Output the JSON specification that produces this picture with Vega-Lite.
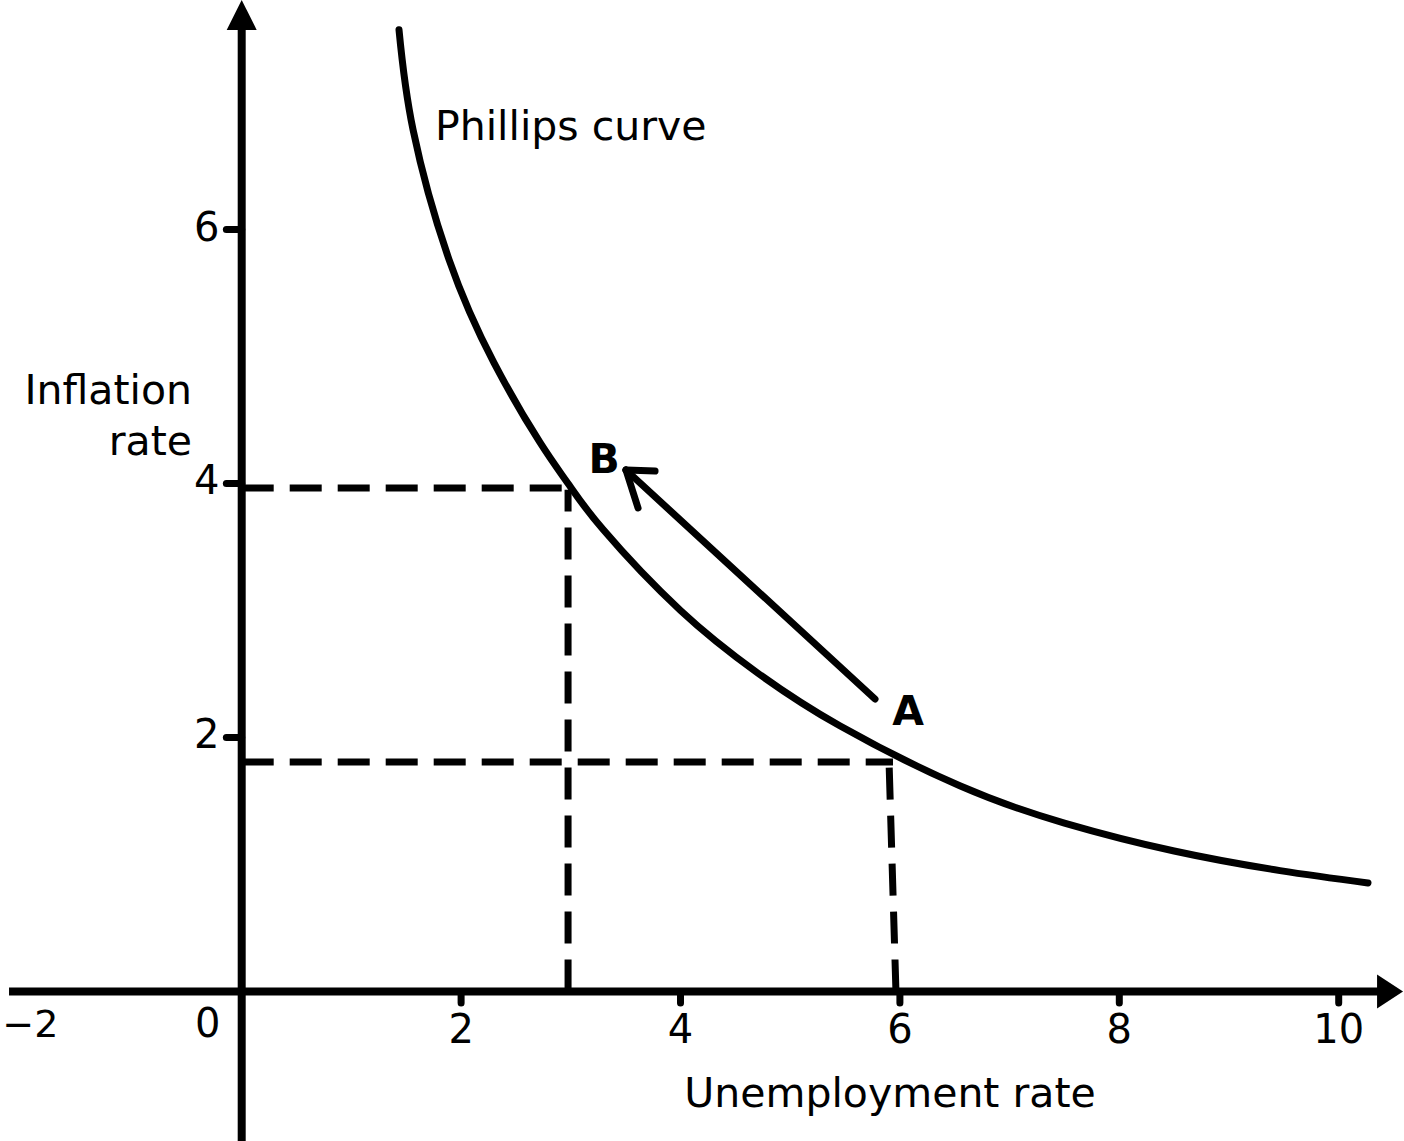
{
  "$schema": "https://vega.github.io/schema/vega-lite/v6.json",
  "width": 1404,
  "height": 1141,
  "autosize": "none",
  "padding": 0,
  "background": "white",
  "config": {"view": {"stroke": null}, "font": "DejaVu Sans"},
  "datasets": {
    "curve": [
      {"x": 1.434, "y": 7.572}, {"x": 1.562, "y": 6.785}, {"x": 1.89, "y": 5.763},
      {"x": 2.3, "y": 4.95}, {"x": 2.719, "y": 4.323}, {"x": 2.975, "y": 4.0},
      {"x": 3.293, "y": 3.639}, {"x": 4.0, "y": 3.0}, {"x": 4.7, "y": 2.51},
      {"x": 5.452, "y": 2.092}, {"x": 6.546, "y": 1.62}, {"x": 7.5, "y": 1.326},
      {"x": 8.5, "y": 1.106}, {"x": 9.465, "y": 0.952}, {"x": 10.267, "y": 0.855}
    ],
    "dashes": [
      {"x": 0, "y": 3.965, "x2": 2.92, "y2": 3.965},
      {"x": 2.975, "y": 0, "x2": 2.975, "y2": 3.95},
      {"x": 0, "y": 1.807, "x2": 5.937, "y2": 1.807},
      {"x": 5.964, "y": 0, "x2": 5.901, "y2": 1.807}
    ],
    "arrow": [
      {"x": 5.773, "y": 2.303, "x2": 3.503, "y2": 4.106},
      {"x": 3.503, "y": 4.106, "x2": 3.768, "y2": 4.098},
      {"x": 3.503, "y": 4.106, "x2": 3.613, "y2": 3.807}
    ],
    "axes": [
      {"x": -2.121, "y": 0, "x2": 10.4, "y2": 0},
      {"x": 0, "y": -1.18, "x2": 0, "y2": 7.6}
    ],
    "heads": [
      {"x": 0, "y": 7.689, "h": "up"},
      {"x": 10.468, "y": 0, "h": "right"}
    ],
    "xticks": [{"v": 2, "t": "2"}, {"v": 4, "t": "4"}, {"v": 6, "t": "6"}, {"v": 8, "t": "8"}, {"v": 10, "t": "10"}],
    "xlow": [{"v": -2, "t": "−2"}],
    "yticks": [{"v": 2, "t": "2"}, {"v": 4, "t": "4"}, {"v": 6, "t": "6"}],
    "leftText": [{"x": 1.762, "y": 6.705, "t": "Phillips curve"}],
    "rightText": [{"x": -0.453, "y": 4.626, "t": "Inflation"}, {"x": -0.453, "y": 4.224, "t": "rate"}],
    "centerText": [{"x": 5.91, "y": -0.909, "t": "Unemployment rate"}],
    "points": [{"x": 3.303, "y": 4.083, "t": "B"}, {"x": 6.074, "y": 2.098, "t": "A"}]
  },
  "layer": [
    {
      "data": {"name": "dashes"},
      "mark": {"type": "rule", "color": "black", "strokeWidth": 7, "strokeDash": [32, 16]},
      "encoding": {
        "x": {"field": "x", "type": "quantitative", "scale": {"domain": [-2.2033, 10.5952], "nice": false, "zero": false}, "axis": null},
        "y": {"field": "y", "type": "quantitative", "scale": {"domain": [-1.1772, 7.8071], "nice": false, "zero": false}, "axis": null},
        "x2": {"field": "x2"},
        "y2": {"field": "y2"}
      }
    },
    {
      "data": {"name": "axes"},
      "mark": {"type": "rule", "color": "black", "strokeWidth": 8},
      "encoding": {
        "x": {"field": "x", "type": "quantitative"},
        "y": {"field": "y", "type": "quantitative"},
        "x2": {"field": "x2"},
        "y2": {"field": "y2"}
      }
    },
    {
      "data": {"name": "curve"},
      "mark": {"type": "line", "color": "black", "strokeWidth": 7, "interpolate": "natural", "strokeCap": "round"},
      "encoding": {
        "x": {"field": "x", "type": "quantitative"},
        "y": {"field": "y", "type": "quantitative"}
      }
    },
    {
      "data": {"name": "arrow"},
      "mark": {"type": "rule", "color": "black", "strokeWidth": 7, "strokeCap": "round"},
      "encoding": {
        "x": {"field": "x", "type": "quantitative"},
        "y": {"field": "y", "type": "quantitative"},
        "x2": {"field": "x2"},
        "y2": {"field": "y2"}
      }
    },
    {
      "data": {"name": "heads"},
      "mark": {"type": "point", "filled": true, "color": "black", "opacity": 1, "size": 900, "strokeWidth": 0},
      "encoding": {
        "x": {"field": "x", "type": "quantitative"},
        "y": {"field": "y", "type": "quantitative"},
        "shape": {"field": "h", "type": "nominal", "scale": {"domain": ["up", "right"], "range": ["M0,-1L1,1L-1,1Z", "M0.867,0L-0.867,-1.13L-0.867,1.13Z"]}, "legend": null}
      }
    },
    {
      "data": {"name": "xticks"},
      "mark": {"type": "rule", "color": "black", "strokeWidth": 7, "strokeCap": "round"},
      "encoding": {
        "x": {"field": "v", "type": "quantitative"},
        "y": {"datum": 0, "type": "quantitative"},
        "y2": {"datum": -0.09}
      }
    },
    {
      "data": {"name": "yticks"},
      "mark": {"type": "rule", "color": "black", "strokeWidth": 7, "strokeCap": "round"},
      "encoding": {
        "y": {"field": "v", "type": "quantitative"},
        "x": {"datum": -0.14, "type": "quantitative"},
        "x2": {"datum": 0}
      }
    },
    {
      "data": {"name": "xticks"},
      "mark": {"type": "text", "fontSize": 40, "color": "black", "align": "center", "baseline": "alphabetic", "dy": 51.5},
      "encoding": {
        "x": {"field": "v", "type": "quantitative"},
        "y": {"datum": 0, "type": "quantitative"},
        "text": {"field": "t"}
      }
    },
    {
      "data": {"name": "xlow"},
      "mark": {"type": "text", "fontSize": 38, "color": "black", "align": "left", "baseline": "alphabetic", "dy": 45.5, "dx": -20},
      "encoding": {
        "x": {"field": "v", "type": "quantitative"},
        "y": {"datum": 0, "type": "quantitative"},
        "text": {"field": "t"}
      }
    },
    {
      "data": {"values": [{"v": 0, "t": "0"}]},
      "mark": {"type": "text", "fontSize": 40, "color": "black", "align": "center", "baseline": "alphabetic", "dy": 45.5, "dx": -34},
      "encoding": {
        "x": {"field": "v", "type": "quantitative"},
        "y": {"datum": 0, "type": "quantitative"},
        "text": {"field": "t"}
      }
    },
    {
      "data": {"name": "yticks"},
      "mark": {"type": "text", "fontSize": 40, "color": "black", "align": "center", "baseline": "alphabetic", "dy": 11, "dx": -35},
      "encoding": {
        "y": {"field": "v", "type": "quantitative"},
        "x": {"datum": 0, "type": "quantitative"},
        "text": {"field": "t"}
      }
    },
    {
      "data": {"name": "leftText"},
      "mark": {"type": "text", "fontSize": 41, "color": "black", "align": "left", "baseline": "alphabetic"},
      "encoding": {
        "x": {"field": "x", "type": "quantitative"},
        "y": {"field": "y", "type": "quantitative"},
        "text": {"field": "t"}
      }
    },
    {
      "data": {"name": "rightText"},
      "mark": {"type": "text", "fontSize": 41, "color": "black", "align": "right", "baseline": "alphabetic"},
      "encoding": {
        "x": {"field": "x", "type": "quantitative"},
        "y": {"field": "y", "type": "quantitative"},
        "text": {"field": "t"}
      }
    },
    {
      "data": {"name": "centerText"},
      "mark": {"type": "text", "fontSize": 41, "color": "black", "align": "center", "baseline": "alphabetic"},
      "encoding": {
        "x": {"field": "x", "type": "quantitative"},
        "y": {"field": "y", "type": "quantitative"},
        "text": {"field": "t"}
      }
    },
    {
      "data": {"name": "points"},
      "mark": {"type": "text", "fontSize": 41, "fontWeight": "bold", "color": "black", "align": "center", "baseline": "alphabetic"},
      "encoding": {
        "x": {"field": "x", "type": "quantitative"},
        "y": {"field": "y", "type": "quantitative"},
        "text": {"field": "t"}
      }
    }
  ]
}
